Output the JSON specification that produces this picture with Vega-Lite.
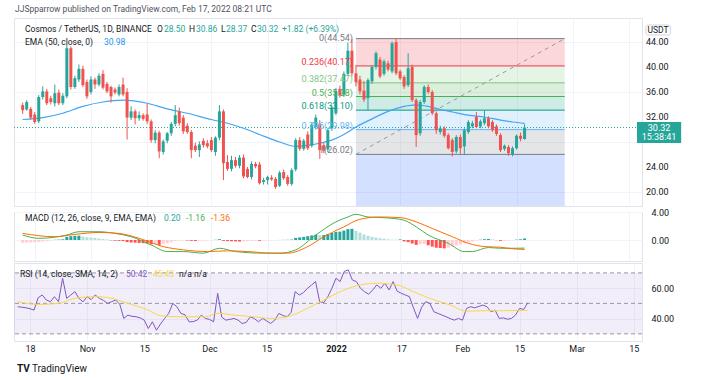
{
"$schema":"https://vega.github.io/schema/vega-lite/v6.json",
"background":"#ffffff",
"padding":{"left":13,"top":5,"right":0,"bottom":0},
"spacing":0,
"title":{"text":"JJSpparrow published on TradingView.com, Feb 17, 2022 08:21 UTC","anchor":"start","fontSize":8.5,"fontWeight":"normal","color":"#50535e","offset":4,"frame":"group","dx":1},
"resolve":{"scale":{"color":"independent"}},
"config":{"font":"Roboto","view":{"stroke":"#e0e3eb"},
 "axis":{"gridColor":"#f0f3fa","labelColor":"#131722","labelFontSize":9,"domain":false,"ticks":false,"tickSize":0,"title":null,"labelOverlap":false}},
"datasets":{
"candles":[
{"d":"2021-10-15","o":33.9,"h":34.3,"l":32.5,"c":33.1},{"d":"2021-10-16","o":33.2,"h":34.7,"l":33.0,"c":34.4},{"d":"2021-10-17","o":33.3,"h":33.6,"l":31.6,"c":31.9},{"d":"2021-10-18","o":32.4,"h":32.8,"l":30.9,"c":31.2},{"d":"2021-10-19","o":31.3,"h":35.5,"l":31.0,"c":35.2},{"d":"2021-10-20","o":35.2,"h":36.9,"l":34.8,"c":36.1},{"d":"2021-10-21","o":36.1,"h":36.5,"l":33.9,"c":34.2},{"d":"2021-10-22","o":35.0,"h":35.4,"l":34.0,"c":34.4},{"d":"2021-10-23","o":34.2,"h":37.2,"l":33.7,"c":35.8},{"d":"2021-10-24","o":35.9,"h":36.4,"l":33.9,"c":34.2},{"d":"2021-10-25","o":34.2,"h":35.8,"l":33.9,"c":35.4},{"d":"2021-10-26","o":35.3,"h":43.6,"l":35.0,"c":43.0},{"d":"2021-10-27","o":43.0,"h":43.3,"l":36.4,"c":36.8},{"d":"2021-10-28","o":36.8,"h":38.6,"l":36.5,"c":38.2},{"d":"2021-10-29","o":38.0,"h":40.4,"l":37.6,"c":39.7},{"d":"2021-10-30","o":39.7,"h":40.2,"l":36.8,"c":37.1},{"d":"2021-10-31","o":37.6,"h":38.0,"l":34.9,"c":35.3},
{"d":"2021-11-01","o":36.0,"h":38.5,"l":35.6,"c":38.0},{"d":"2021-11-02","o":38.0,"h":38.3,"l":36.5,"c":37.2},{"d":"2021-11-03","o":37.2,"h":39.0,"l":36.9,"c":38.6},{"d":"2021-11-04","o":38.9,"h":39.5,"l":36.4,"c":36.7},{"d":"2021-11-05","o":37.3,"h":37.6,"l":35.8,"c":36.1},{"d":"2021-11-06","o":36.8,"h":37.0,"l":34.3,"c":35.3},{"d":"2021-11-07","o":36.4,"h":36.7,"l":35.6,"c":35.9},{"d":"2021-11-08","o":35.6,"h":37.2,"l":35.3,"c":36.8},{"d":"2021-11-09","o":37.2,"h":38.3,"l":35.3,"c":35.6},{"d":"2021-11-10","o":36.0,"h":36.6,"l":28.4,"c":31.9},{"d":"2021-11-11","o":31.9,"h":33.7,"l":31.5,"c":32.9},{"d":"2021-11-12","o":32.9,"h":33.2,"l":30.8,"c":31.8},{"d":"2021-11-13","o":31.8,"h":32.9,"l":31.4,"c":32.3},{"d":"2021-11-14","o":32.3,"h":32.6,"l":31.4,"c":31.7},{"d":"2021-11-15","o":32.4,"h":34.1,"l":30.9,"c":31.3},{"d":"2021-11-16","o":31.3,"h":31.6,"l":27.9,"c":28.3},{"d":"2021-11-17","o":28.3,"h":29.9,"l":27.8,"c":29.5},{"d":"2021-11-18","o":29.5,"h":29.8,"l":25.4,"c":26.5},{"d":"2021-11-19","o":26.4,"h":28.4,"l":26.0,"c":28.1},{"d":"2021-11-20","o":28.2,"h":29.6,"l":27.8,"c":29.4},{"d":"2021-11-21","o":29.4,"h":31.2,"l":29.0,"c":30.9},{"d":"2021-11-22","o":30.9,"h":33.9,"l":30.5,"c":32.3},{"d":"2021-11-23","o":32.9,"h":33.5,"l":30.6,"c":31.0},{"d":"2021-11-24","o":31.9,"h":32.3,"l":29.3,"c":29.7},{"d":"2021-11-25","o":30.6,"h":31.0,"l":29.3,"c":29.6},{"d":"2021-11-26","o":29.6,"h":29.9,"l":25.4,"c":26.7},{"d":"2021-11-27","o":27.4,"h":27.9,"l":26.4,"c":26.7},{"d":"2021-11-28","o":26.7,"h":28.1,"l":25.6,"c":27.6},{"d":"2021-11-29","o":28.2,"h":28.6,"l":27.1,"c":27.5},{"d":"2021-11-30","o":27.8,"h":28.3,"l":27.0,"c":27.3},
{"d":"2021-12-01","o":28.3,"h":28.8,"l":26.4,"c":26.7},{"d":"2021-12-02","o":26.4,"h":28.9,"l":25.8,"c":28.7},{"d":"2021-12-03","o":28.7,"h":33.9,"l":28.3,"c":32.9},{"d":"2021-12-04","o":32.9,"h":33.2,"l":21.9,"c":24.6},{"d":"2021-12-05","o":24.8,"h":25.9,"l":23.4,"c":23.7},{"d":"2021-12-06","o":23.7,"h":25.8,"l":23.3,"c":25.1},{"d":"2021-12-07","o":25.1,"h":25.6,"l":23.9,"c":24.2},{"d":"2021-12-08","o":24.2,"h":25.9,"l":23.8,"c":25.5},{"d":"2021-12-09","o":25.5,"h":26.0,"l":22.2,"c":22.5},{"d":"2021-12-10","o":23.7,"h":24.0,"l":22.2,"c":22.4},{"d":"2021-12-11","o":22.4,"h":24.9,"l":22.0,"c":24.5},{"d":"2021-12-12","o":24.5,"h":24.8,"l":23.8,"c":24.1},{"d":"2021-12-13","o":24.4,"h":24.8,"l":21.2,"c":21.4},{"d":"2021-12-14","o":21.6,"h":22.3,"l":21.2,"c":21.9},{"d":"2021-12-15","o":21.9,"h":22.6,"l":21.2,"c":22.4},{"d":"2021-12-16","o":22.3,"h":22.7,"l":21.8,"c":22.0},{"d":"2021-12-17","o":22.1,"h":22.4,"l":20.5,"c":20.8},{"d":"2021-12-18","o":21.0,"h":23.4,"l":20.8,"c":23.1},{"d":"2021-12-19","o":23.2,"h":23.6,"l":21.9,"c":22.2},{"d":"2021-12-20","o":22.4,"h":22.7,"l":21.0,"c":21.3},{"d":"2021-12-21","o":21.3,"h":23.8,"l":21.0,"c":23.5},{"d":"2021-12-22","o":23.6,"h":28.6,"l":23.3,"c":28.3},{"d":"2021-12-23","o":28.3,"h":28.8,"l":26.6,"c":26.9},{"d":"2021-12-24","o":26.9,"h":28.5,"l":26.6,"c":28.2},{"d":"2021-12-25","o":29.2,"h":29.7,"l":26.7,"c":27.0},{"d":"2021-12-26","o":27.4,"h":31.0,"l":27.1,"c":30.8},{"d":"2021-12-27","o":30.4,"h":32.4,"l":30.0,"c":31.9},{"d":"2021-12-28","o":30.8,"h":31.5,"l":25.3,"c":26.7},{"d":"2021-12-29","o":27.5,"h":27.9,"l":26.2,"c":26.6},{"d":"2021-12-30","o":26.8,"h":30.2,"l":26.4,"c":29.9},{"d":"2021-12-31","o":30.2,"h":33.9,"l":29.8,"c":33.5},
{"d":"2022-01-01","o":32.6,"h":36.6,"l":32.3,"c":36.2},{"d":"2022-01-02","o":36.5,"h":37.0,"l":35.1,"c":35.5},{"d":"2022-01-03","o":35.6,"h":39.3,"l":35.2,"c":38.9},{"d":"2022-01-04","o":38.9,"h":43.9,"l":38.5,"c":42.6},{"d":"2022-01-05","o":42.6,"h":44.5,"l":38.5,"c":39.0},{"d":"2022-01-06","o":39.0,"h":40.3,"l":36.9,"c":37.6},{"d":"2022-01-07","o":38.0,"h":38.6,"l":35.6,"c":36.1},{"d":"2022-01-08","o":36.2,"h":37.8,"l":34.4,"c":34.8},{"d":"2022-01-09","o":35.0,"h":38.2,"l":33.1,"c":37.9},{"d":"2022-01-10","o":37.7,"h":40.3,"l":37.3,"c":40.0},{"d":"2022-01-11","o":40.0,"h":42.5,"l":39.6,"c":42.2},{"d":"2022-01-12","o":41.2,"h":41.6,"l":38.2,"c":38.5},{"d":"2022-01-13","o":38.9,"h":41.2,"l":38.6,"c":40.9},{"d":"2022-01-14","o":40.6,"h":41.0,"l":39.3,"c":39.6},{"d":"2022-01-15","o":39.3,"h":44.1,"l":39.0,"c":43.8},{"d":"2022-01-16","o":44.0,"h":44.54,"l":38.7,"c":39.0},{"d":"2022-01-17","o":39.3,"h":39.6,"l":37.9,"c":38.2},{"d":"2022-01-18","o":38.4,"h":38.7,"l":36.5,"c":36.9},{"d":"2022-01-19","o":37.1,"h":42.2,"l":36.8,"c":39.8},{"d":"2022-01-20","o":40.0,"h":40.4,"l":34.4,"c":34.7},{"d":"2022-01-21","o":34.7,"h":35.0,"l":27.2,"c":29.1},{"d":"2022-01-22","o":29.4,"h":34.7,"l":29.0,"c":34.4},{"d":"2022-01-23","o":34.4,"h":37.1,"l":34.1,"c":36.8},{"d":"2022-01-24","o":36.8,"h":37.2,"l":35.7,"c":36.0},{"d":"2022-01-25","o":36.0,"h":36.3,"l":32.3,"c":32.6},{"d":"2022-01-26","o":32.6,"h":32.9,"l":29.3,"c":29.9},{"d":"2022-01-27","o":29.6,"h":30.6,"l":29.2,"c":30.2},{"d":"2022-01-28","o":30.2,"h":30.5,"l":28.7,"c":29.0},{"d":"2022-01-29","o":29.1,"h":29.4,"l":26.8,"c":27.0},{"d":"2022-01-30","o":28.3,"h":28.6,"l":25.7,"c":26.4},{"d":"2022-01-31","o":26.5,"h":29.1,"l":26.2,"c":28.8},
{"d":"2022-02-01","o":28.8,"h":29.2,"l":26.1,"c":27.0},{"d":"2022-02-02","o":27.3,"h":30.2,"l":25.9,"c":29.9},{"d":"2022-02-03","o":29.6,"h":31.5,"l":29.3,"c":31.2},{"d":"2022-02-04","o":30.5,"h":31.4,"l":30.2,"c":31.0},{"d":"2022-02-05","o":32.0,"h":32.8,"l":30.2,"c":30.4},{"d":"2022-02-06","o":30.5,"h":31.6,"l":30.2,"c":31.3},{"d":"2022-02-07","o":31.0,"h":33.1,"l":30.7,"c":31.8},{"d":"2022-02-08","o":31.8,"h":32.1,"l":30.2,"c":30.5},{"d":"2022-02-09","o":31.2,"h":31.5,"l":29.6,"c":29.9},{"d":"2022-02-10","o":30.5,"h":30.8,"l":29.0,"c":29.3},{"d":"2022-02-11","o":29.1,"h":29.4,"l":26.4,"c":26.7},{"d":"2022-02-12","o":26.9,"h":27.6,"l":26.6,"c":27.4},{"d":"2022-02-13","o":27.2,"h":27.5,"l":25.8,"c":26.2},{"d":"2022-02-14","o":26.0,"h":27.3,"l":25.7,"c":27.0},{"d":"2022-02-15","o":27.0,"h":29.2,"l":26.8,"c":29.0},{"d":"2022-02-16","o":29.0,"h":29.5,"l":28.1,"c":28.5},{"d":"2022-02-17","o":28.5,"h":30.86,"l":28.37,"c":30.32}
],
"ema":[
{"d":"2021-10-15","v":31.6},{"d":"2021-10-20","v":31.9},{"d":"2021-10-25","v":32.6},{"d":"2021-10-30","v":33.7},{"d":"2021-11-04","v":34.4},{"d":"2021-11-09","v":34.7},{"d":"2021-11-15","v":34.2},{"d":"2021-11-20","v":33.3},{"d":"2021-11-25","v":32.6},{"d":"2021-12-01","v":31.6},{"d":"2021-12-05","v":31.0},{"d":"2021-12-09","v":30.2},{"d":"2021-12-13","v":29.2},{"d":"2021-12-18","v":28.0},{"d":"2021-12-22","v":27.3},{"d":"2021-12-25","v":27.45},{"d":"2021-12-28","v":27.8},{"d":"2021-12-31","v":28.3},{"d":"2022-01-03","v":29.2},{"d":"2022-01-06","v":30.4},{"d":"2022-01-10","v":31.7},{"d":"2022-01-14","v":32.9},{"d":"2022-01-18","v":33.7},{"d":"2022-01-21","v":33.95},{"d":"2022-01-24","v":33.7},{"d":"2022-01-27","v":33.2},{"d":"2022-01-30","v":32.8},{"d":"2022-02-03","v":32.3},{"d":"2022-02-07","v":32.0},{"d":"2022-02-11","v":31.5},{"d":"2022-02-14","v":31.2},{"d":"2022-02-17","v":30.98}
],
"macd":[
{"d":"2021-10-15","m":0.71},{"d":"2021-10-19","m":0.24},{"d":"2021-10-26","m":0.71},{"d":"2021-10-29","m":1.18},{"d":"2021-11-03","m":1.18},{"d":"2021-11-07","m":0.94},{"d":"2021-11-11","m":0.47},{"d":"2021-11-16","m":-0.71},{"d":"2021-11-20","m":-1.65},{"d":"2021-11-24","m":-1.65},{"d":"2021-11-29","m":-1.88},{"d":"2021-12-03","m":-1.18},{"d":"2021-12-07","m":-1.65},{"d":"2021-12-14","m":-1.88},{"d":"2021-12-18","m":-1.88},{"d":"2021-12-22","m":-1.41},{"d":"2021-12-27","m":0.71},{"d":"2022-01-01","m":2.59},{"d":"2022-01-04","m":3.29},{"d":"2022-01-06","m":3.67},{"d":"2022-01-09","m":3.29},{"d":"2022-01-14","m":3.15},{"d":"2022-01-18","m":2.82},{"d":"2022-01-21","m":1.88},{"d":"2022-01-24","m":0.71},{"d":"2022-01-29","m":-0.47},{"d":"2022-02-02","m":-1.65},{"d":"2022-02-04","m":-1.65},{"d":"2022-02-08","m":-1.08},{"d":"2022-02-11","m":-1.18},{"d":"2022-02-15","m":-1.18},{"d":"2022-02-17","m":-1.16}
],
"sig":[
{"d":"2021-10-15","s":0.94},{"d":"2021-10-23","s":0.47},{"d":"2021-10-28","s":0.8},{"d":"2021-11-03","s":1.08},{"d":"2021-11-08","s":0.94},{"d":"2021-11-13","s":0.24},{"d":"2021-11-19","s":-0.94},{"d":"2021-11-24","s":-1.41},{"d":"2021-11-30","s":-1.65},{"d":"2021-12-05","s":-1.55},{"d":"2021-12-10","s":-1.65},{"d":"2021-12-16","s":-1.88},{"d":"2021-12-20","s":-1.88},{"d":"2021-12-25","s":-0.94},{"d":"2021-12-29","s":0.47},{"d":"2022-01-03","s":1.88},{"d":"2022-01-07","s":2.96},{"d":"2022-01-12","s":3.29},{"d":"2022-01-17","s":3.2},{"d":"2022-01-21","s":2.59},{"d":"2022-01-25","s":1.65},{"d":"2022-01-30","s":0.47},{"d":"2022-02-03","s":-0.47},{"d":"2022-02-07","s":-0.94},{"d":"2022-02-11","s":-1.04},{"d":"2022-02-14","s":-1.25},{"d":"2022-02-17","s":-1.36}
],
"hist":[
{"d":"2021-10-15","h":-0.40,"k":"neg_up"},{"d":"2021-10-16","h":-0.38,"k":"neg_up"},{"d":"2021-10-17","h":-0.35,"k":"neg_up"},{"d":"2021-10-18","h":-0.32,"k":"neg_up"},{"d":"2021-10-19","h":-0.28,"k":"neg_up"},{"d":"2021-10-20","h":-0.20,"k":"neg_up"},{"d":"2021-10-21","h":-0.12,"k":"neg_up"},{"d":"2021-10-22","h":-0.06,"k":"neg_up"},{"d":"2021-10-23","h":0.03,"k":"pos_up"},{"d":"2021-10-24","h":0.06,"k":"pos_up"},{"d":"2021-10-25","h":0.10,"k":"pos_up"},{"d":"2021-10-26","h":0.45,"k":"pos_up"},{"d":"2021-10-27","h":0.55,"k":"pos_up"},{"d":"2021-10-28","h":0.60,"k":"pos_up"},{"d":"2021-10-29","h":0.62,"k":"pos_up"},{"d":"2021-10-30","h":0.50,"k":"pos_down"},{"d":"2021-10-31","h":0.40,"k":"pos_down"},
{"d":"2021-11-01","h":0.35,"k":"pos_down"},{"d":"2021-11-02","h":0.30,"k":"pos_down"},{"d":"2021-11-03","h":0.22,"k":"pos_down"},{"d":"2021-11-04","h":0.15,"k":"pos_down"},{"d":"2021-11-05","h":0.08,"k":"pos_down"},{"d":"2021-11-06","h":-0.05,"k":"neg_down"},{"d":"2021-11-07","h":-0.10,"k":"neg_down"},{"d":"2021-11-08","h":-0.12,"k":"neg_down"},{"d":"2021-11-09","h":-0.15,"k":"neg_down"},{"d":"2021-11-10","h":-0.30,"k":"neg_down"},{"d":"2021-11-11","h":-0.35,"k":"neg_down"},{"d":"2021-11-12","h":-0.38,"k":"neg_down"},{"d":"2021-11-13","h":-0.42,"k":"neg_down"},{"d":"2021-11-14","h":-0.45,"k":"neg_down"},{"d":"2021-11-15","h":-0.50,"k":"neg_down"},{"d":"2021-11-16","h":-0.62,"k":"neg_down"},{"d":"2021-11-17","h":-0.60,"k":"neg_up"},{"d":"2021-11-18","h":-0.70,"k":"neg_down"},{"d":"2021-11-19","h":-0.55,"k":"neg_up"},{"d":"2021-11-20","h":-0.45,"k":"neg_up"},{"d":"2021-11-21","h":-0.30,"k":"neg_up"},{"d":"2021-11-22","h":-0.15,"k":"neg_up"},{"d":"2021-11-23","h":-0.08,"k":"neg_up"},{"d":"2021-11-24","h":-0.06,"k":"neg_up"},{"d":"2021-11-25","h":-0.07,"k":"neg_down"},{"d":"2021-11-26","h":-0.12,"k":"neg_down"},{"d":"2021-11-27","h":-0.14,"k":"neg_down"},{"d":"2021-11-28","h":-0.10,"k":"neg_up"},{"d":"2021-11-29","h":-0.08,"k":"neg_up"},{"d":"2021-11-30","h":-0.05,"k":"neg_up"},
{"d":"2021-12-01","h":-0.03,"k":"neg_up"},{"d":"2021-12-02","h":0.03,"k":"pos_up"},{"d":"2021-12-03","h":0.12,"k":"pos_up"},{"d":"2021-12-04","h":-0.12,"k":"neg_down"},{"d":"2021-12-05","h":-0.16,"k":"neg_down"},{"d":"2021-12-06","h":-0.18,"k":"neg_down"},{"d":"2021-12-07","h":-0.20,"k":"neg_down"},{"d":"2021-12-08","h":-0.22,"k":"neg_down"},{"d":"2021-12-09","h":-0.20,"k":"neg_up"},{"d":"2021-12-10","h":-0.16,"k":"neg_up"},{"d":"2021-12-11","h":-0.12,"k":"neg_up"},{"d":"2021-12-12","h":-0.10,"k":"neg_up"},{"d":"2021-12-13","h":-0.11,"k":"neg_down"},{"d":"2021-12-14","h":-0.08,"k":"neg_up"},{"d":"2021-12-15","h":-0.05,"k":"neg_up"},{"d":"2021-12-16","h":-0.04,"k":"neg_up"},{"d":"2021-12-17","h":-0.03,"k":"neg_up"},{"d":"2021-12-18","h":0.01,"k":"pos_up"},{"d":"2021-12-19","h":0.02,"k":"pos_up"},{"d":"2021-12-20","h":0.03,"k":"pos_up"},{"d":"2021-12-21","h":0.06,"k":"pos_up"},{"d":"2021-12-22","h":0.30,"k":"pos_up"},{"d":"2021-12-23","h":0.38,"k":"pos_up"},{"d":"2021-12-24","h":0.45,"k":"pos_up"},{"d":"2021-12-25","h":0.55,"k":"pos_up"},{"d":"2021-12-26","h":0.65,"k":"pos_up"},{"d":"2021-12-27","h":0.75,"k":"pos_up"},{"d":"2021-12-28","h":0.70,"k":"pos_down"},{"d":"2021-12-29","h":0.72,"k":"pos_up"},{"d":"2021-12-30","h":0.85,"k":"pos_up"},{"d":"2021-12-31","h":1.00,"k":"pos_up"},
{"d":"2022-01-01","h":1.15,"k":"pos_up"},{"d":"2022-01-02","h":1.20,"k":"pos_up"},{"d":"2022-01-03","h":1.35,"k":"pos_up"},{"d":"2022-01-04","h":1.55,"k":"pos_up"},{"d":"2022-01-05","h":1.60,"k":"pos_up"},{"d":"2022-01-06","h":1.30,"k":"pos_down"},{"d":"2022-01-07","h":1.05,"k":"pos_down"},{"d":"2022-01-08","h":0.80,"k":"pos_down"},{"d":"2022-01-09","h":0.60,"k":"pos_down"},{"d":"2022-01-10","h":0.45,"k":"pos_down"},{"d":"2022-01-11","h":0.35,"k":"pos_down"},{"d":"2022-01-12","h":0.25,"k":"pos_down"},{"d":"2022-01-13","h":0.18,"k":"pos_down"},{"d":"2022-01-14","h":0.10,"k":"pos_down"},{"d":"2022-01-15","h":0.06,"k":"pos_down"},{"d":"2022-01-16","h":0.04,"k":"pos_down"},{"d":"2022-01-17","h":0.08,"k":"pos_up"},{"d":"2022-01-18","h":-0.20,"k":"neg_down"},{"d":"2022-01-19","h":-0.30,"k":"neg_down"},{"d":"2022-01-20","h":-0.50,"k":"neg_down"},{"d":"2022-01-21","h":-0.70,"k":"neg_down"},{"d":"2022-01-22","h":-0.60,"k":"neg_up"},{"d":"2022-01-23","h":-0.55,"k":"neg_up"},{"d":"2022-01-24","h":-0.75,"k":"neg_down"},{"d":"2022-01-25","h":-0.95,"k":"neg_down"},{"d":"2022-01-26","h":-1.10,"k":"neg_down"},{"d":"2022-01-27","h":-1.15,"k":"neg_down"},{"d":"2022-01-28","h":-1.20,"k":"neg_down"},{"d":"2022-01-29","h":-1.10,"k":"neg_up"},{"d":"2022-01-30","h":-0.95,"k":"neg_up"},{"d":"2022-01-31","h":-0.80,"k":"neg_up"},
{"d":"2022-02-01","h":-0.65,"k":"neg_up"},{"d":"2022-02-02","h":-0.50,"k":"neg_up"},{"d":"2022-02-03","h":-0.35,"k":"neg_up"},{"d":"2022-02-04","h":-0.20,"k":"neg_up"},{"d":"2022-02-05","h":-0.08,"k":"neg_up"},{"d":"2022-02-06","h":0.04,"k":"pos_up"},{"d":"2022-02-07","h":0.12,"k":"pos_up"},{"d":"2022-02-08","h":0.15,"k":"pos_up"},{"d":"2022-02-09","h":0.08,"k":"pos_down"},{"d":"2022-02-10","h":-0.02,"k":"neg_down"},{"d":"2022-02-11","h":-0.12,"k":"neg_down"},{"d":"2022-02-12","h":-0.10,"k":"neg_up"},{"d":"2022-02-13","h":-0.06,"k":"neg_up"},{"d":"2022-02-14","h":-0.02,"k":"neg_up"},{"d":"2022-02-15","h":0.05,"k":"pos_up"},{"d":"2022-02-16","h":0.10,"k":"pos_up"},{"d":"2022-02-17","h":0.20,"k":"pos_up"}
],
"rsi":[
{"d":"2021-10-15","r":47.8},{"d":"2021-10-16","r":47.5},{"d":"2021-10-17","r":47.1},{"d":"2021-10-18","r":46.5},{"d":"2021-10-19","r":45.6},{"d":"2021-10-20","r":53.7},{"d":"2021-10-21","r":55.5},{"d":"2021-10-22","r":52.2},{"d":"2021-10-23","r":51.1},{"d":"2021-10-24","r":54.4},{"d":"2021-10-25","r":51.1},{"d":"2021-10-26","r":66.5},{"d":"2021-10-27","r":53.3},{"d":"2021-10-28","r":55.5},{"d":"2021-10-29","r":57.7},{"d":"2021-10-30","r":53.3},{"d":"2021-10-31","r":51.0},
{"d":"2021-11-01","r":54.4},{"d":"2021-11-02","r":52.5},{"d":"2021-11-03","r":55.5},{"d":"2021-11-04","r":53.3},{"d":"2021-11-05","r":52.0},{"d":"2021-11-06","r":50.0},{"d":"2021-11-07","r":51.1},{"d":"2021-11-08","r":52.2},{"d":"2021-11-09","r":49.5},{"d":"2021-11-10","r":40.1},{"d":"2021-11-11","r":42.3},{"d":"2021-11-12","r":41.5},{"d":"2021-11-13","r":41.2},{"d":"2021-11-14","r":40.5},{"d":"2021-11-15","r":39.0},{"d":"2021-11-16","r":33.5},{"d":"2021-11-17","r":37.9},{"d":"2021-11-18","r":32.4},{"d":"2021-11-19","r":36.5},{"d":"2021-11-20","r":40.1},{"d":"2021-11-21","r":43.4},{"d":"2021-11-22","r":50.0},{"d":"2021-11-23","r":47.8},{"d":"2021-11-24","r":43.4},{"d":"2021-11-25","r":42.5},{"d":"2021-11-26","r":37.9},{"d":"2021-11-27","r":38.0},{"d":"2021-11-28","r":39.0},{"d":"2021-11-29","r":42.3},{"d":"2021-11-30","r":40.1},
{"d":"2021-12-01","r":39.5},{"d":"2021-12-02","r":37.9},{"d":"2021-12-03","r":56.6},{"d":"2021-12-04","r":41.0},{"d":"2021-12-05","r":39.0},{"d":"2021-12-06","r":39.5},{"d":"2021-12-07","r":40.1},{"d":"2021-12-08","r":39.0},{"d":"2021-12-09","r":36.8},{"d":"2021-12-10","r":37.5},{"d":"2021-12-11","r":41.2},{"d":"2021-12-12","r":40.0},{"d":"2021-12-13","r":37.9},{"d":"2021-12-14","r":40.1},{"d":"2021-12-15","r":38.5},{"d":"2021-12-16","r":36.8},{"d":"2021-12-17","r":39.0},{"d":"2021-12-18","r":43.4},{"d":"2021-12-19","r":42.0},{"d":"2021-12-20","r":41.2},{"d":"2021-12-21","r":44.0},{"d":"2021-12-22","r":57.7},{"d":"2021-12-23","r":55.5},{"d":"2021-12-24","r":57.0},{"d":"2021-12-25","r":59.9},{"d":"2021-12-26","r":62.0},{"d":"2021-12-27","r":64.3},{"d":"2021-12-28","r":51.1},{"d":"2021-12-29","r":50.5},{"d":"2021-12-30","r":54.4},{"d":"2021-12-31","r":59.9},
{"d":"2022-01-01","r":66.5},{"d":"2022-01-02","r":64.3},{"d":"2022-01-03","r":70.9},{"d":"2022-01-04","r":72.0},{"d":"2022-01-05","r":65.4},{"d":"2022-01-06","r":64.3},{"d":"2022-01-07","r":59.9},{"d":"2022-01-08","r":57.7},{"d":"2022-01-09","r":56.0},{"d":"2022-01-10","r":58.8},{"d":"2022-01-11","r":62.1},{"d":"2022-01-12","r":59.9},{"d":"2022-01-13","r":63.2},{"d":"2022-01-14","r":58.8},{"d":"2022-01-15","r":64.3},{"d":"2022-01-16","r":58.0},{"d":"2022-01-17","r":56.6},{"d":"2022-01-18","r":55.5},{"d":"2022-01-19","r":54.4},{"d":"2022-01-20","r":47.0},{"d":"2022-01-21","r":40.1},{"d":"2022-01-22","r":47.5},{"d":"2022-01-23","r":51.1},{"d":"2022-01-24","r":50.0},{"d":"2022-01-25","r":44.5},{"d":"2022-01-26","r":43.4},{"d":"2022-01-27","r":42.3},{"d":"2022-01-28","r":41.2},{"d":"2022-01-29","r":40.0},{"d":"2022-01-30","r":39.0},{"d":"2022-01-31","r":40.1},
{"d":"2022-02-01","r":39.0},{"d":"2022-02-02","r":46.7},{"d":"2022-02-03","r":47.8},{"d":"2022-02-04","r":47.1},{"d":"2022-02-05","r":48.0},{"d":"2022-02-06","r":48.9},{"d":"2022-02-07","r":47.8},{"d":"2022-02-08","r":44.5},{"d":"2022-02-09","r":45.6},{"d":"2022-02-10","r":40.1},{"d":"2022-02-11","r":40.5},{"d":"2022-02-12","r":39.6},{"d":"2022-02-13","r":40.1},{"d":"2022-02-14","r":42.3},{"d":"2022-02-15","r":46.7},{"d":"2022-02-16","r":46.0},{"d":"2022-02-17","r":50.42}
],
"rsima":[
{"d":"2021-10-15","m":51.1},{"d":"2021-10-20","m":49.3},{"d":"2021-10-25","m":50.0},{"d":"2021-10-29","m":53.3},{"d":"2021-11-03","m":54.4},{"d":"2021-11-07","m":53.3},{"d":"2021-11-11","m":50.0},{"d":"2021-11-16","m":45.6},{"d":"2021-11-19","m":41.9},{"d":"2021-11-24","m":41.2},{"d":"2021-11-30","m":41.2},{"d":"2021-12-03","m":43.5},{"d":"2021-12-07","m":42.3},{"d":"2021-12-12","m":41.2},{"d":"2021-12-16","m":40.1},{"d":"2021-12-20","m":41.2},{"d":"2021-12-25","m":46.7},{"d":"2021-12-29","m":52.2},{"d":"2022-01-03","m":58.8},{"d":"2022-01-07","m":62.1},{"d":"2022-01-11","m":63.2},{"d":"2022-01-16","m":62.1},{"d":"2022-01-20","m":57.7},{"d":"2022-01-24","m":53.3},{"d":"2022-01-29","m":48.9},{"d":"2022-02-02","m":44.9},{"d":"2022-02-07","m":45.2},{"d":"2022-02-11","m":45.2},{"d":"2022-02-17","m":45.43}
],
"fibz":[
{"k":"0.236","a":44.54,"b":40.17},{"k":"0.382","a":40.17,"b":37.47},{"k":"0.5","a":37.47,"b":35.28},{"k":"0.618","a":35.28,"b":33.10},{"k":"0.786","a":33.10,"b":29.98},{"k":"1","a":29.98,"b":26.02},{"k":"1.618","a":26.02,"b":14.57}
],
"fibl":[
{"k":"0","p":44.54,"t":"0(44.54)"},{"k":"0.236","p":40.17,"t":"0.236(40.17)"},{"k":"0.382","p":37.47,"t":"0.382(37.47)"},{"k":"0.5","p":35.28,"t":"0.5(35.28)"},{"k":"0.618","p":33.10,"t":"0.618(33.10)"},{"k":"0.786","p":29.98,"t":"0.786(29.98)"},{"k":"1","p":26.02,"t":"1(26.02)"}
],
"fib0":[{"k":"0","p":44.54,"t":"0(44.54)"}],
"fibrest":[
{"k":"0.236","p":40.17,"t":"0.236(40.17)"},{"k":"0.382","p":37.47,"t":"0.382(37.47)"},{"k":"0.5","p":35.28,"t":"0.5(35.28)"},{"k":"0.618","p":33.10,"t":"0.618(33.10)"},{"k":"0.786","p":29.98,"t":"0.786(29.98)"},{"k":"1","p":26.02,"t":"1(26.02)"}
],
"pticks":[{"v":20},{"v":24},{"v":32},{"v":36},{"v":40},{"v":44}],
"rsilv":[{"v":70},{"v":50},{"v":30}]
},
"vconcat":[
{
"width":628,"height":188,
"layer":[
{"data":{"name":"fibz"},"mark":{"type":"rect","opacity":0.2,"clip":true},
 "encoding":{"x":{"datum":{"year":2022,"month":1,"date":6,"utc":true},"type":"temporal","scale":{"type":"utc","domain":[{"year":2021,"month":10,"date":14,"hours":2,"utc":true},{"year":2022,"month":3,"date":17,"utc":true}]}},"x2":{"datum":{"year":2022,"month":2,"date":27,"utc":true}},
 "y":{"field":"a","type":"quantitative","scale":{"domain":[17.76,47.84]}},"y2":{"field":"b"},
 "color":{"field":"k","type":"nominal","legend":null,"scale":{"domain":["0","0.236","0.382","0.5","0.618","0.786","1","1.618"],"range":["#787b86","#f23645","#81c784","#4caf50","#089981","#64b5f6","#787b86","#2962ff"]}}}},
{"data":{"name":"fibl"},"mark":{"type":"rule","strokeWidth":1},
 "encoding":{"x":{"datum":{"year":2022,"month":1,"date":6,"utc":true},"type":"temporal","scale":{"type":"utc","domain":[{"year":2021,"month":10,"date":14,"hours":2,"utc":true},{"year":2022,"month":3,"date":17,"utc":true}]}},"x2":{"datum":{"year":2022,"month":2,"date":27,"utc":true}},
 "y":{"field":"p","type":"quantitative","scale":{"domain":[17.76,47.84]}},"color":{"field":"k","type":"nominal","legend":null}}},
{"data":{"values":[{}]},"mark":{"type":"rule","strokeDash":[4,4],"color":"#9598a1","strokeWidth":1},
 "encoding":{"x":{"datum":{"year":2022,"month":1,"date":6,"utc":true},"type":"temporal","scale":{"type":"utc","domain":[{"year":2021,"month":10,"date":14,"hours":2,"utc":true},{"year":2022,"month":3,"date":17,"utc":true}]}},"x2":{"datum":{"year":2022,"month":2,"date":27,"utc":true}},"y":{"datum":26.02,"scale":{"domain":[17.76,47.84]}},"y2":{"datum":44.54}}},
{"data":{"values":[{}]},"mark":{"type":"rule","strokeDash":[1,2],"color":"#26a69a","strokeWidth":1},"encoding":{"y":{"datum":30.32,"scale":{"domain":[17.76,47.84]}}}},
{"data":{"name":"ema"},"mark":{"type":"line","color":"#42a5f5","strokeWidth":1.2,"interpolate":"monotone"},
 "encoding":{"x":{"field":"d","type":"temporal","scale":{"type":"utc","domain":[{"year":2021,"month":10,"date":14,"hours":2,"utc":true},{"year":2022,"month":3,"date":17,"utc":true}]}},"y":{"field":"v","type":"quantitative","scale":{"domain":[17.76,47.84]}}}},
{"data":{"name":"candles"},"mark":{"type":"rule","strokeWidth":1},
 "encoding":{"x":{"field":"d","type":"temporal","scale":{"type":"utc","domain":[{"year":2021,"month":10,"date":14,"hours":2,"utc":true},{"year":2022,"month":3,"date":17,"utc":true}]},
   "axis":{"labels":false,"grid":true,"minExtent":0,"maxExtent":0,"values":[{"year":2021,"month":10,"date":18,"utc":true},{"year":2021,"month":11,"date":1,"utc":true},{"year":2021,"month":11,"date":15,"utc":true},{"year":2021,"month":12,"date":1,"utc":true},{"year":2021,"month":12,"date":15,"utc":true},{"year":2022,"month":1,"date":1,"utc":true},{"year":2022,"month":1,"date":17,"utc":true},{"year":2022,"month":2,"date":1,"utc":true},{"year":2022,"month":2,"date":15,"utc":true},{"year":2022,"month":3,"date":1,"utc":true},{"year":2022,"month":3,"date":15,"utc":true}]}},
  "y":{"field":"l","type":"quantitative","scale":{"domain":[17.76,47.84]},"axis":{"orient":"right","values":[20,24,28,32,36,40,44],"labels":false,"grid":true}},
  "y2":{"field":"h"},
  "color":{"condition":{"test":"datum.c >= datum.o","value":"#26a69a"},"value":"#ef5350"}}},
{"data":{"name":"candles"},"mark":{"type":"bar","width":3},
 "encoding":{"x":{"field":"d","type":"temporal","scale":{"type":"utc","domain":[{"year":2021,"month":10,"date":14,"hours":2,"utc":true},{"year":2022,"month":3,"date":17,"utc":true}]}},"y":{"field":"o","type":"quantitative","scale":{"domain":[17.76,47.84]}},"y2":{"field":"c"},
  "color":{"condition":{"test":"datum.c >= datum.o","value":"#26a69a"},"value":"#ef5350"}}},
{"data":{"name":"fibrest"},"mark":{"type":"text","align":"right","baseline":"bottom","dx":-3,"dy":1,"fontSize":9},
 "encoding":{"x":{"datum":{"year":2022,"month":1,"date":6,"utc":true},"type":"temporal","scale":{"type":"utc","domain":[{"year":2021,"month":10,"date":14,"hours":2,"utc":true},{"year":2022,"month":3,"date":17,"utc":true}]}},"y":{"field":"p","type":"quantitative","scale":{"domain":[17.76,47.84]}},"text":{"field":"t"},"color":{"field":"k","type":"nominal","legend":null}}},
{"data":{"name":"fib0"},"mark":{"type":"text","align":"right","baseline":"bottom","dx":-3,"dy":4,"fontSize":9},
 "encoding":{"x":{"datum":{"year":2022,"month":1,"date":6,"utc":true},"type":"temporal","scale":{"type":"utc","domain":[{"year":2021,"month":10,"date":14,"hours":2,"utc":true},{"year":2022,"month":3,"date":17,"utc":true}]}},"y":{"field":"p","type":"quantitative","scale":{"domain":[17.76,47.84]}},"text":{"field":"t"},"color":{"field":"k","type":"nominal","legend":null}}},
{"data":{"name":"pticks"},"mark":{"type":"text","align":"left","baseline":"middle","dx":9,"fontSize":9,"color":"#131722","clip":false},
 "encoding":{"x":{"datum":{"year":2022,"month":3,"date":17,"utc":true},"type":"temporal","scale":{"type":"utc","domain":[{"year":2021,"month":10,"date":14,"hours":2,"utc":true},{"year":2022,"month":3,"date":17,"utc":true}]}},"y":{"field":"v","type":"quantitative","scale":{"domain":[17.76,47.84]}},"text":{"field":"v","type":"quantitative","format":".2f"}}},
{"data":{"values":[{}]},
 "encoding":{"x":{"datum":{"year":2021,"month":10,"date":14,"hours":2,"utc":true},"type":"temporal","scale":{"type":"utc","domain":[{"year":2021,"month":10,"date":14,"hours":2,"utc":true},{"year":2022,"month":3,"date":17,"utc":true}]}}},
 "layer":[
  {"mark":{"type":"text","text":"Cosmos / TetherUS, 1D, BINANCE","align":"left","baseline":"middle","dx":6,"fontSize":8.5,"color":"#131722"},"encoding":{"y":{"datum":46.08,"scale":{"domain":[17.76,47.84]}}}},
  {"mark":{"type":"text","text":"O","align":"left","baseline":"middle","dx":138,"fontSize":8.5,"color":"#131722"},"encoding":{"y":{"datum":46.08,"scale":{"domain":[17.76,47.84]}}}},
  {"mark":{"type":"text","text":"28.50","align":"left","baseline":"middle","dx":145,"fontSize":8.5,"color":"#26a69a"},"encoding":{"y":{"datum":46.08,"scale":{"domain":[17.76,47.84]}}}},
  {"mark":{"type":"text","text":"H","align":"left","baseline":"middle","dx":170,"fontSize":8.5,"color":"#131722"},"encoding":{"y":{"datum":46.08,"scale":{"domain":[17.76,47.84]}}}},
  {"mark":{"type":"text","text":"30.86","align":"left","baseline":"middle","dx":177,"fontSize":8.5,"color":"#26a69a"},"encoding":{"y":{"datum":46.08,"scale":{"domain":[17.76,47.84]}}}},
  {"mark":{"type":"text","text":"L","align":"left","baseline":"middle","dx":202,"fontSize":8.5,"color":"#131722"},"encoding":{"y":{"datum":46.08,"scale":{"domain":[17.76,47.84]}}}},
  {"mark":{"type":"text","text":"28.37","align":"left","baseline":"middle","dx":207,"fontSize":8.5,"color":"#26a69a"},"encoding":{"y":{"datum":46.08,"scale":{"domain":[17.76,47.84]}}}},
  {"mark":{"type":"text","text":"C","align":"left","baseline":"middle","dx":232,"fontSize":8.5,"color":"#131722"},"encoding":{"y":{"datum":46.08,"scale":{"domain":[17.76,47.84]}}}},
  {"mark":{"type":"text","text":"30.32","align":"left","baseline":"middle","dx":238,"fontSize":8.5,"color":"#26a69a"},"encoding":{"y":{"datum":46.08,"scale":{"domain":[17.76,47.84]}}}},
  {"mark":{"type":"text","text":"+1.82 (+6.39%)","align":"left","baseline":"middle","dx":263,"fontSize":8.5,"color":"#26a69a"},"encoding":{"y":{"datum":46.08,"scale":{"domain":[17.76,47.84]}}}},
  {"mark":{"type":"text","text":"EMA (50, close, 0)","align":"left","baseline":"middle","dx":6,"fontSize":8.5,"color":"#131722"},"encoding":{"y":{"datum":44.0,"scale":{"domain":[17.76,47.84]}}}},
  {"mark":{"type":"text","text":"30.98","align":"left","baseline":"middle","dx":85,"fontSize":8.5,"color":"#2196f3"},"encoding":{"y":{"datum":44.0,"scale":{"domain":[17.76,47.84]}}}}
 ]},
{"data":{"values":[{}]},"mark":{"type":"rect","color":"#26a69a","clip":false},
 "encoding":{"x":{"datum":{"year":2022,"month":3,"date":17,"utc":true},"type":"temporal","scale":{"type":"utc","domain":[{"year":2021,"month":10,"date":14,"hours":2,"utc":true},{"year":2022,"month":3,"date":17,"utc":true}]}},"x2":{"datum":{"year":2022,"month":3,"date":28,"utc":true}},"y":{"datum":31.2,"scale":{"domain":[17.76,47.84]}},"y2":{"datum":27.85}}},
{"data":{"values":[{}]},"mark":{"type":"text","text":"30.32","align":"center","baseline":"middle","fontSize":9,"color":"#ffffff","clip":false},
 "encoding":{"x":{"datum":{"year":2022,"month":3,"date":22,"hours":12,"utc":true},"type":"temporal","scale":{"type":"utc","domain":[{"year":2021,"month":10,"date":14,"hours":2,"utc":true},{"year":2022,"month":3,"date":17,"utc":true}]}},"y":{"datum":30.29,"scale":{"domain":[17.76,47.84]}}}},
{"data":{"values":[{}]},"mark":{"type":"text","text":"15:38:41","align":"center","baseline":"middle","fontSize":9,"color":"#ffffff","clip":false},
 "encoding":{"x":{"datum":{"year":2022,"month":3,"date":22,"hours":12,"utc":true},"type":"temporal","scale":{"type":"utc","domain":[{"year":2021,"month":10,"date":14,"hours":2,"utc":true},{"year":2022,"month":3,"date":17,"utc":true}]}},"y":{"datum":28.75,"scale":{"domain":[17.76,47.84]}}}},
{"data":{"values":[{}]},"mark":{"type":"rect","fill":"#ffffff","stroke":"#d1d4dc","cornerRadius":2,"clip":false},
 "encoding":{"x":{"datum":{"year":2022,"month":3,"date":19,"hours":5,"utc":true},"type":"temporal","scale":{"type":"utc","domain":[{"year":2021,"month":10,"date":14,"hours":2,"utc":true},{"year":2022,"month":3,"date":17,"utc":true}]}},"x2":{"datum":{"year":2022,"month":3,"date":25,"hours":7,"utc":true}},"y":{"datum":46.72,"scale":{"domain":[17.76,47.84]}},"y2":{"datum":45.12}}},
{"data":{"values":[{}]},"mark":{"type":"text","text":"USDT","align":"center","baseline":"middle","fontSize":8.5,"color":"#131722","clip":false},
 "encoding":{"x":{"datum":{"year":2022,"month":3,"date":22,"hours":6,"utc":true},"type":"temporal","scale":{"type":"utc","domain":[{"year":2021,"month":10,"date":14,"hours":2,"utc":true},{"year":2022,"month":3,"date":17,"utc":true}]}},"y":{"datum":45.92,"scale":{"domain":[17.76,47.84]}}}}
]
},
{
"width":628,"height":49,
"layer":[
{"data":{"name":"hist"},"mark":{"type":"bar","width":3},
 "encoding":{"x":{"field":"d","type":"temporal","scale":{"type":"utc","domain":[{"year":2021,"month":10,"date":14,"hours":2,"utc":true},{"year":2022,"month":3,"date":17,"utc":true}]},
   "axis":{"labels":false,"grid":true,"minExtent":0,"maxExtent":0,"values":[{"year":2021,"month":10,"date":18,"utc":true},{"year":2021,"month":11,"date":1,"utc":true},{"year":2021,"month":11,"date":15,"utc":true},{"year":2021,"month":12,"date":1,"utc":true},{"year":2021,"month":12,"date":15,"utc":true},{"year":2022,"month":1,"date":1,"utc":true},{"year":2022,"month":1,"date":17,"utc":true},{"year":2022,"month":2,"date":1,"utc":true},{"year":2022,"month":2,"date":15,"utc":true},{"year":2022,"month":3,"date":1,"utc":true},{"year":2022,"month":3,"date":15,"utc":true}]}},
  "y":{"field":"h","type":"quantitative","scale":{"domain":[-3.0,4.0]},"axis":{"orient":"right","values":[0,4],"format":".2f","grid":true,"labelPadding":9,"labelOverlap":false}},
  "color":{"field":"k","type":"nominal","legend":null,"scale":{"domain":["pos_up","pos_down","neg_up","neg_down"],"range":["#26a69a","#b2dfdb","#ffcdd2","#ff5252"]}}}},
{"data":{"name":"macd"},"mark":{"type":"line","color":"#4caf50","strokeWidth":1,"interpolate":"monotone"},
 "encoding":{"x":{"field":"d","type":"temporal","scale":{"type":"utc","domain":[{"year":2021,"month":10,"date":14,"hours":2,"utc":true},{"year":2022,"month":3,"date":17,"utc":true}]}},"y":{"field":"m","type":"quantitative","scale":{"domain":[-3.0,4.0]}}}},
{"data":{"name":"sig"},"mark":{"type":"line","color":"#ff6d00","strokeWidth":1,"interpolate":"monotone"},
 "encoding":{"x":{"field":"d","type":"temporal","scale":{"type":"utc","domain":[{"year":2021,"month":10,"date":14,"hours":2,"utc":true},{"year":2022,"month":3,"date":17,"utc":true}]}},"y":{"field":"s","type":"quantitative","scale":{"domain":[-3.0,4.0]}}}},
{"data":{"values":[{}]},
 "encoding":{"x":{"datum":{"year":2021,"month":10,"date":14,"hours":2,"utc":true},"type":"temporal","scale":{"type":"utc","domain":[{"year":2021,"month":10,"date":14,"hours":2,"utc":true},{"year":2022,"month":3,"date":17,"utc":true}]}},"y":{"datum":3.1,"scale":{"domain":[-3.0,4.0]}}},
 "layer":[
  {"mark":{"type":"text","text":"MACD (12, 26, close, 9, EMA, EMA)","align":"left","baseline":"middle","dx":6,"fontSize":8.5,"color":"#131722"}},
  {"mark":{"type":"text","text":"0.20","align":"left","baseline":"middle","dx":145,"fontSize":8.5,"color":"#26a69a"}},
  {"mark":{"type":"text","text":"-1.16","align":"left","baseline":"middle","dx":167,"fontSize":8.5,"color":"#4caf50"}},
  {"mark":{"type":"text","text":"-1.36","align":"left","baseline":"middle","dx":192,"fontSize":8.5,"color":"#ff6d00"}}
 ]}
]
},
{
"width":628,"height":78,
"layer":[
{"data":{"values":[{}]},"mark":{"type":"rect","color":"#7e57c2","opacity":0.1},"encoding":{"y":{"datum":70,"scale":{"domain":[25.3,76.5]}},"y2":{"datum":30}}},
{"data":{"name":"rsilv"},"mark":{"type":"rule","strokeDash":[4,3],"color":"#9598a1","strokeWidth":1},
 "encoding":{"y":{"field":"v","type":"quantitative","scale":{"domain":[25.3,76.5]}}}},
{"data":{"name":"rsi"},"mark":{"type":"line","color":"#7e57c2","strokeWidth":1},
 "encoding":{"x":{"field":"d","type":"temporal","scale":{"type":"utc","domain":[{"year":2021,"month":10,"date":14,"hours":2,"utc":true},{"year":2022,"month":3,"date":17,"utc":true}]},
   "axis":{"grid":true,"labelPadding":3,"labelOverlap":false,"labelFlush":false,
     "values":[{"year":2021,"month":10,"date":18,"utc":true},{"year":2021,"month":11,"date":1,"utc":true},{"year":2021,"month":11,"date":15,"utc":true},{"year":2021,"month":12,"date":1,"utc":true},{"year":2021,"month":12,"date":15,"utc":true},{"year":2022,"month":1,"date":1,"utc":true},{"year":2022,"month":1,"date":17,"utc":true},{"year":2022,"month":2,"date":1,"utc":true},{"year":2022,"month":2,"date":15,"utc":true},{"year":2022,"month":3,"date":1,"utc":true},{"year":2022,"month":3,"date":15,"utc":true}],
     "labelExpr":"utcdate(datum.value)==1 ? (utcmonth(datum.value)==0 ? utcFormat(datum.value,'%Y') : utcFormat(datum.value,'%b')) : utcFormat(datum.value,'%d')",
     "labelFontWeight":{"condition":{"test":"utcmonth(datum.value)==0 && utcdate(datum.value)==1","value":"bold"},"value":"normal"}}},
  "y":{"field":"r","type":"quantitative","scale":{"domain":[25.3,76.5]},"axis":{"orient":"right","values":[40,60],"format":".2f","grid":true,"labelPadding":9,"labelOverlap":false}}}},
{"data":{"name":"rsima"},"mark":{"type":"line","color":"#f9d64a","strokeWidth":1,"interpolate":"monotone"},
 "encoding":{"x":{"field":"d","type":"temporal","scale":{"type":"utc","domain":[{"year":2021,"month":10,"date":14,"hours":2,"utc":true},{"year":2022,"month":3,"date":17,"utc":true}]}},"y":{"field":"m","type":"quantitative","scale":{"domain":[25.3,76.5]}}}},
{"data":{"values":[{}]},
 "encoding":{"x":{"datum":{"year":2021,"month":10,"date":14,"hours":2,"utc":true},"type":"temporal","scale":{"type":"utc","domain":[{"year":2021,"month":10,"date":14,"hours":2,"utc":true},{"year":2022,"month":3,"date":17,"utc":true}]}},"y":{"datum":69.0,"scale":{"domain":[25.3,76.5]}}},
 "layer":[
  {"mark":{"type":"text","text":"RSI (14, close, SMA, 14, 2)","align":"left","baseline":"middle","dx":6,"fontSize":8.5,"color":"#131722"}},
  {"mark":{"type":"text","text":"50.42","align":"left","baseline":"middle","dx":112,"fontSize":8.5,"color":"#7e57c2"}},
  {"mark":{"type":"text","text":"45.43","align":"left","baseline":"middle","dx":139,"fontSize":8.5,"color":"#f9d64a"}},
  {"mark":{"type":"text","text":"n/a n/a","align":"left","baseline":"middle","dx":165,"fontSize":8.5,"color":"#131722"}}
 ]},
{"data":{"values":[{}]},
 "encoding":{"x":{"datum":{"year":2021,"month":10,"date":14,"hours":2,"utc":true},"type":"temporal","scale":{"type":"utc","domain":[{"year":2021,"month":10,"date":14,"hours":2,"utc":true},{"year":2022,"month":3,"date":17,"utc":true}]}},"y":{"datum":7.0,"scale":{"domain":[25.3,76.5]}}},
 "layer":[
  {"mark":{"type":"text","text":"TV","align":"left","baseline":"middle","dx":3,"fontSize":10,"fontWeight":"bold","color":"#131722","clip":false}},
  {"mark":{"type":"text","text":"TradingView","align":"left","baseline":"middle","dx":18,"fontSize":10,"color":"#131722","clip":false}}
 ]}
]
}
]
}
